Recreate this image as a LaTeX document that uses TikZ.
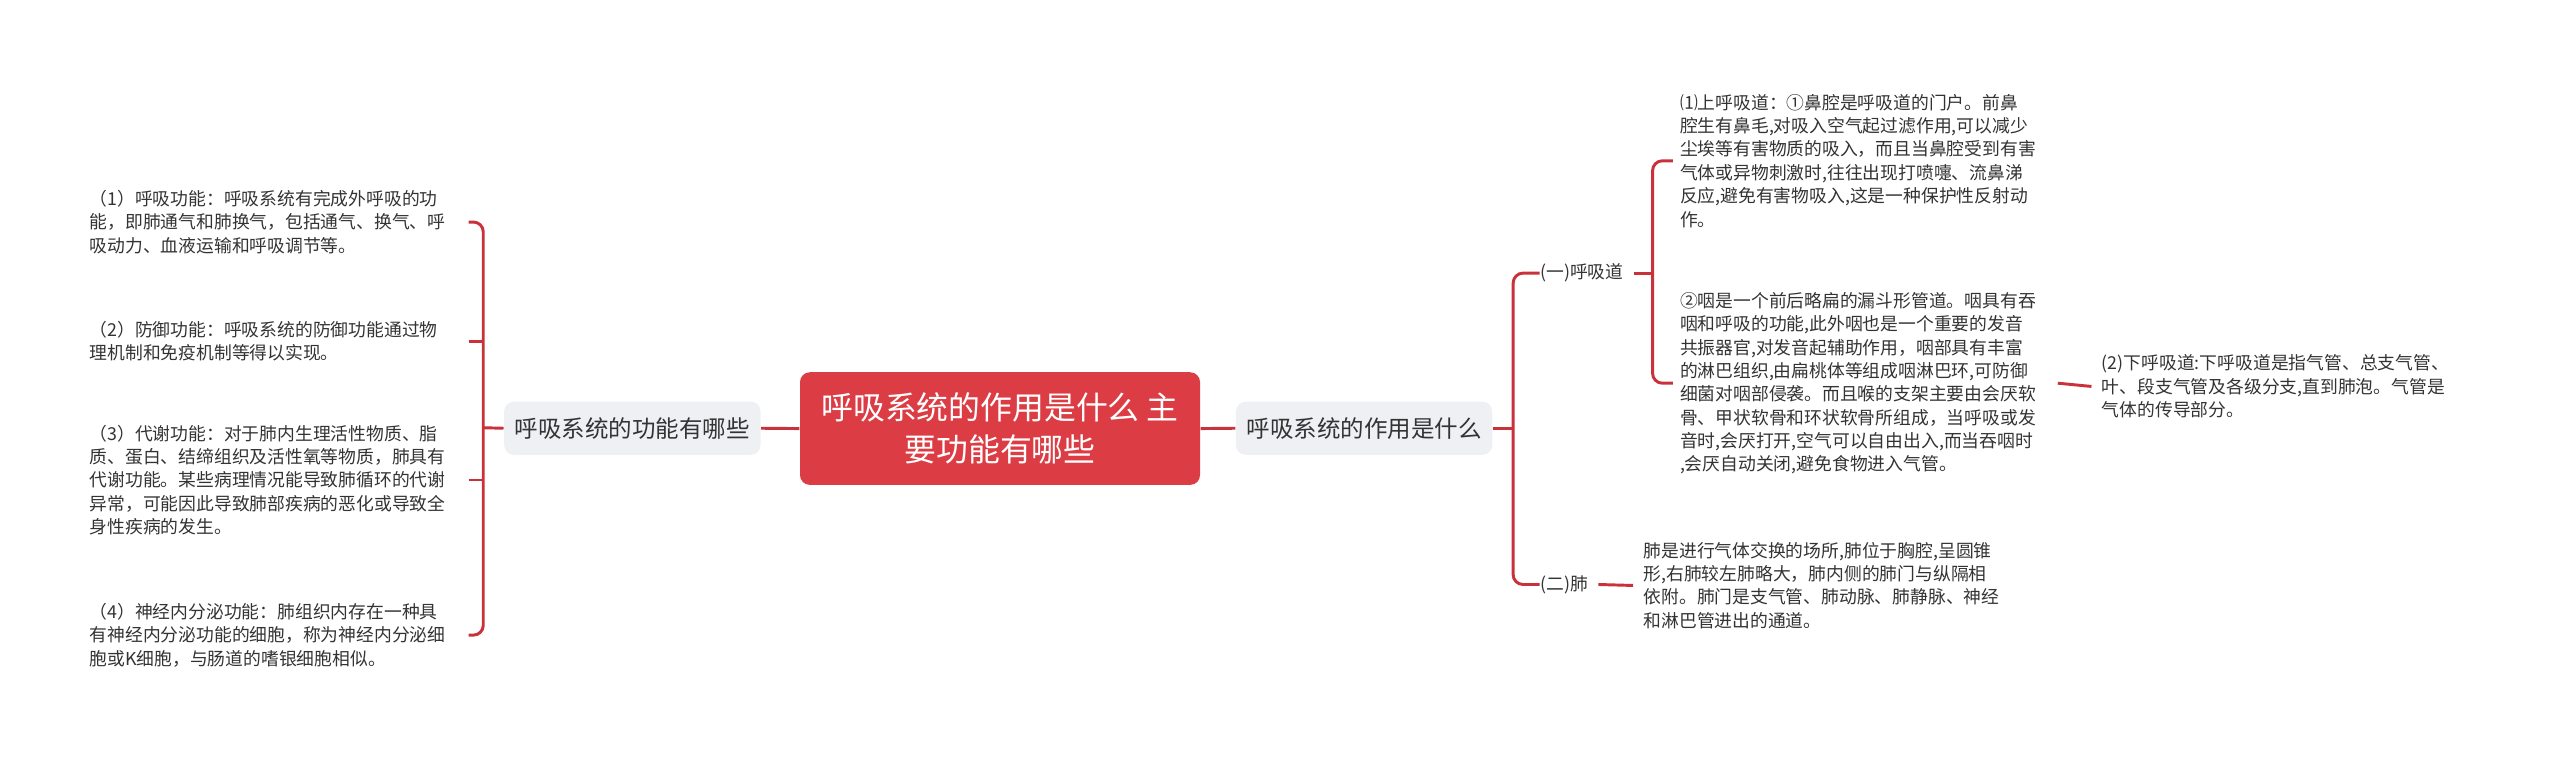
\documentclass[tikz,border=0pt]{standalone}
\usepackage{fontspec}
\usepackage{xcolor}
\setmainfont{Noto Sans CJK SC}
\usetikzlibrary{positioning}
\definecolor{linered}{HTML}{C9313B}
\definecolor{boxred}{HTML}{DC3D45}
\definecolor{boxgray}{HTML}{EEF0F3}
\definecolor{txt}{HTML}{333333}
\tikzset{
  leaf/.style={anchor=west,inner sep=0pt,align=left,text=txt,font=\fontsize{5.45pt}{7.15pt}\selectfont},
  mid/.style={fill=boxgray,rounded corners=3pt,minimum width=78.5pt,minimum height=16.3pt,inner sep=0pt,text=txt,font=\fontsize{7.2pt}{9pt}\selectfont},
  link/.style={draw=linered,line width=0.9pt,rounded corners=3pt}
}
\begin{document}
\begin{tikzpicture}[x=0.5pt,y=-0.5pt]
\useasboundingbox (0,0) rectangle (1568,465);
\node [fill=boxred,rounded corners=3pt,minimum width=122.5pt,minimum height=34.5pt,inner sep=0pt,align=center,text=white,font=\fontsize{9.75pt}{13pt}\selectfont] (root) at (612.5,262.5) {呼吸系统的作用是什么 主\\要功能有哪些};
\node [mid] (func) at (387.3,262.3) {呼吸系统的功能有哪些};
\node [mid] (role) at (835.5,262.3) {呼吸系统的作用是什么};
% left side
\node [leaf] (f1) at (54.5,136) {（1）呼吸功能：呼吸系统有完成外呼吸的功\\能，即肺通气和肺换气，包括通气、换气、呼\\吸动力、血液运输和呼吸调节等。};
\node [leaf] (f2) at (54.5,209) {（2）防御功能：呼吸系统的防御功能通过物\\理机制和免疫机制等得以实现。};
\node [leaf] (f3) at (54.5,294) {（3）代谢功能：对于肺内生理活性物质、脂\\质、蛋白、结缔组织及活性氧等物质，肺具有\\代谢功能。某些病理情况能导致肺循环的代谢\\异常，可能因此导致肺部疾病的恶化或导致全\\身性疾病的发生。};
\node [leaf] (f4) at (54.5,389) {（4）神经内分泌功能：肺组织内存在一种具\\有神经内分泌功能的细胞，称为神经内分泌细\\胞或K细胞，与肠道的嗜银细胞相似。};
\coordinate (lstub) at (287,262);
\coordinate (lbar) at (296,262);
% right side
\node [leaf] (airway) at (943,167.3) {(一)呼吸道};
\node [leaf] (lung) at (943,358) {(二)肺};
\node [leaf] (upper) at (1028.6,98.5) {⑴上呼吸道：①鼻腔是呼吸道的门户。前鼻\\腔生有鼻毛,对吸入空气起过滤作用,可以减少\\尘埃等有害物质的吸入，而且当鼻腔受到有害\\气体或异物刺激时,往往出现打喷嚏、流鼻涕\\反应,避免有害物吸入,这是一种保护性反射动\\作。};
\node [leaf] (throat) at (1028.6,234.7) {②咽是一个前后略扁的漏斗形管道。咽具有吞\\咽和呼吸的功能,此外咽也是一个重要的发音\\共振器官,对发音起辅助作用，咽部具有丰富\\的淋巴组织,由扁桃体等组成咽淋巴环,可防御\\细菌对咽部侵袭。而且喉的支架主要由会厌软\\骨、甲状软骨和环状软骨所组成，当呼吸或发\\音时,会厌打开,空气可以自由出入,而当吞咽时\\,会厌自动关闭,避免食物进入气管。};
\node [leaf] (lower) at (1287,236.7) {(2)下呼吸道:下呼吸道是指气管、总支气管、\\叶、段支气管及各级分支,直到肺泡。气管是\\气体的传导部分。};
\node [leaf] (lungtxt) at (1006.3,358.6) {肺是进行气体交换的场所,肺位于胸腔,呈圆锥\\形,右肺较左肺略大，肺内侧的肺门与纵隔相\\依附。肺门是支气管、肺动脉、肺静脉、神经\\和淋巴管进出的通道。};
% connectors
\draw [link] (root.west) -- (func.east);
\draw [link] (root.east) -- (role.east -| role.west);
\draw [link] (func.west) -- (lbar);
\draw [link] (f1.center -| lstub) -- (f1.center -| lbar) -- (f4.center -| lbar) -- (f4.center -| lstub);
\draw [link] (f2.center -| lstub) -- (f2.center -| lbar);
\draw [link] (f3.center -| lstub) -- (f3.center -| lbar);
\draw [link] (role.east) -- (926.8,262.3);
\draw [link] (airway.west) -- (926.8,167.3) -- (926.8,358) -- (lung.west);
\draw [link] (airway.east) ++(6,0) -- (1012.2,167.3);
\draw [link] (upper.west) ++(-4,0) -- (1012.2,98.5) -- (1012.2,234.7) -- ([xshift=-2pt]throat.west);
\draw [link] (1260.4,234.7) -- ([xshift=-3pt]lower.west);
\draw [link] ([xshift=3pt]lung.east) -- ([xshift=-3pt]lungtxt.west);
\end{tikzpicture}
\end{document}
